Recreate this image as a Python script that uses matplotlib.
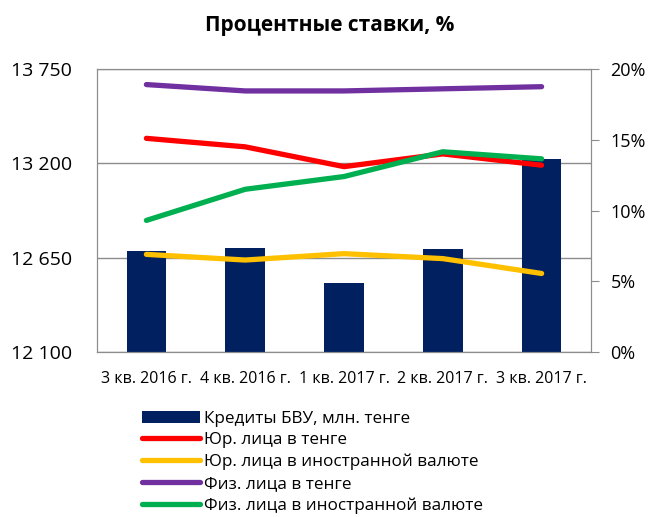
import matplotlib.pyplot as plt
from matplotlib.ticker import FuncFormatter

plt.rcParams['font.family'] = ['Open Sans', 'DejaVu Sans']

quarters = ['3 кв. 2016 г.', '4 кв. 2016 г.', '1 кв. 2017 г.', '2 кв. 2017 г.', '3 кв. 2017 г.']
credits = [12687, 12708, 12505, 12703, 13225]
jur_kzt = [15.1, 14.5, 13.1, 14.0, 13.2]
jur_fx = [6.9, 6.5, 6.95, 6.6, 5.55]
fiz_kzt = [18.9, 18.45, 18.45, 18.6, 18.75]
fiz_fx = [9.3, 11.5, 12.4, 14.15, 13.65]

grey = '#8c8c8c'
x = range(len(quarters))

fig = plt.figure(figsize=(6.51, 5.17), dpi=100)
ax = fig.add_axes([97 / 651, 1 - 352 / 517, 494 / 651, 283 / 517])
ax2 = ax.twinx()

bars = ax.bar(x, credits, width=0.4, color='#002060', zorder=2)
ax.set_ylim(12100, 13750)
ax.set_yticks([12100, 12650, 13200, 13750])
ax.yaxis.set_major_formatter(FuncFormatter(lambda v, p: f'{int(v):,}'.replace(',', ' ')))
ax.set_xlim(-0.5, 4.5)
ax.set_xticks(list(x))
ax.set_xticklabels(quarters, fontsize=11.5)
ax.grid(axis='y', color=grey, linewidth=1, zorder=0)
ax.set_axisbelow(True)
ax.tick_params(axis='y', length=0, labelsize=14, pad=18)
ax.tick_params(axis='x', length=0, pad=14)
for s in ax.spines.values():
    s.set_color(grey)

lw = 3.8
l1, = ax2.plot(x, jur_kzt, color='#ff0000', lw=lw, solid_capstyle='round')
l2, = ax2.plot(x, jur_fx, color='#ffc000', lw=lw, solid_capstyle='round')
l3, = ax2.plot(x, fiz_kzt, color='#7030a0', lw=lw, solid_capstyle='round')
l4, = ax2.plot(x, fiz_fx, color='#00b050', lw=lw, solid_capstyle='round')
ax2.set_ylim(0, 20)
ax2.set_yticks([0, 5, 10, 15, 20])
ax2.yaxis.set_major_formatter(FuncFormatter(lambda v, p: f'{int(v)}%'))
ax2.tick_params(axis='y', length=6, color=grey, labelsize=13, pad=8)
for s in ax2.spines.values():
    s.set_color(grey)

fig.text(0.507, 1 - 25 / 517, 'Процентные ставки, %', ha='center', va='center',
         fontsize=15, fontweight='bold')

fig.legend([bars, l1, l2, l3, l4],
           ['Кредиты БВУ, млн. тенге', 'Юр. лица в тенге', 'Юр. лица в иностранной валюте',
            'Физ. лица в тенге', 'Физ. лица в иностранной валюте'],
           loc='upper left', bbox_to_anchor=(142 / 651, 1 - 411 / 517), frameon=False,
           fontsize=12.3, handlelength=3.4, handletextpad=0.2, labelspacing=0.32,
           borderaxespad=0, borderpad=0)

fig.savefig('out.png', dpi=100)
